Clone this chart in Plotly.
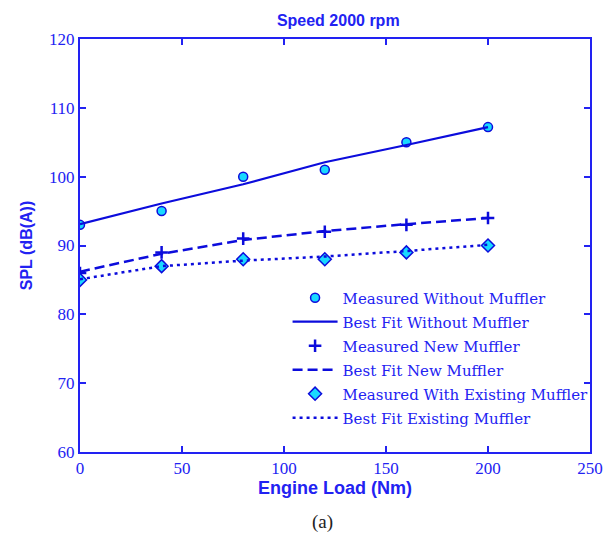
import plotly.graph_objects as go

# Engine load (Nm)
load = [0, 40, 80, 120, 160, 200]

# Measured sound pressure level, dB(A)
spl_without = [93, 95, 100, 101, 105, 107.2]
spl_new = [86, 89, 91, 92, 93, 94]
spl_existing = [85, 87, 88, 88, 89, 90]

# Best-fit curves, dB(A)
fit_without = [93.1, 96.1, 98.9, 102.1, 104.6, 107.2]
fit_new = [86.2, 88.8, 90.8, 92.1, 93.1, 94.0]
fit_existing = [85.1, 87.0, 87.8, 88.4, 89.2, 90.1]

x_ticks = [0, 50, 100, 150, 200, 250]
y_ticks = [60, 70, 80, 90, 100, 110, 120]

AXIS_BLUE = "#2222F2"
LINE_BLUE = "#0C0CDC"
CYAN = "#19D9FF"
SERIF = "Liberation Serif, Times New Roman, serif"
LEGEND_SERIF = "DejaVu Serif, serif"
SANS = "Liberation Sans, Arial, sans-serif"

fig = go.Figure()

fig.add_trace(go.Scatter(
    x=load, y=spl_without, mode="markers", name="Measured Without Muffler",
    legendgroup="g1",
    marker=dict(symbol="circle", size=9, color=CYAN,
                line=dict(color=LINE_BLUE, width=1.5)),
))
fig.add_trace(go.Scatter(
    x=load, y=fit_without, mode="lines", name="Best Fit Without Muffler",
    legendgroup="g2",
    line=dict(color=LINE_BLUE, width=2.2),
))
fig.add_trace(go.Scatter(
    x=load, y=spl_new, mode="markers", name="Measured New Muffler",
    legendgroup="g3",
    marker=dict(symbol="cross-thin", size=9, color=LINE_BLUE,
                line=dict(color=LINE_BLUE, width=2.5)),
))
fig.add_trace(go.Scatter(
    x=load, y=fit_new, mode="lines", name="Best Fit New Muffler",
    legendgroup="g4",
    line=dict(color=LINE_BLUE, width=2.5, dash="10px,5px"),
))
fig.add_trace(go.Scatter(
    x=load, y=spl_existing, mode="markers", name="Measured With Existing Muffler",
    legendgroup="g5",
    marker=dict(symbol="diamond", size=10, color=CYAN,
                line=dict(color=LINE_BLUE, width=1.5)),
))
fig.add_trace(go.Scatter(
    x=load, y=fit_existing, mode="lines", name="Best Fit Existing Muffler",
    legendgroup="g6",
    line=dict(color=LINE_BLUE, width=2.5, dash="3px,4px"),
))

axis_common = dict(
    showgrid=False, zeroline=False, showline=True, linecolor=AXIS_BLUE,
    linewidth=2, mirror="ticks", ticks="inside", ticklen=6, tickwidth=1.5,
    tickcolor=AXIS_BLUE, tickfont=dict(family=SERIF, size=17, color=AXIS_BLUE),
)

fig.update_xaxes(
    range=[0, 250], tickvals=x_ticks, ticktext=[str(v) for v in x_ticks],
    title=dict(text="<b>Engine Load (Nm)</b>", standoff=4,
               font=dict(family=SANS, size=18, color=AXIS_BLUE)),
    **axis_common,
)
fig.update_yaxes(
    range=[60, 120], tickvals=y_ticks, ticktext=[str(v) for v in y_ticks],
    title=dict(text="<b>SPL (dB(A))</b>", standoff=12,
               font=dict(family=SANS, size=16, color=AXIS_BLUE)),
    **axis_common,
)

fig.update_layout(
    width=615, height=538,
    margin=dict(l=80, r=15, t=39, b=86),
    paper_bgcolor="white", plot_bgcolor="white",
    title=dict(text="<b>Speed 2000 rpm</b>", x=0.55, xanchor="center",
               y=1 - 20 / 538, yanchor="middle",
               font=dict(family=SANS, size=16, color=AXIS_BLUE)),
    legend=dict(
        x=0.407, y=0.413, xanchor="left", yanchor="top",
        bgcolor="rgba(0,0,0,0)", borderwidth=0,
        font=dict(family=LEGEND_SERIF, size=15, color=AXIS_BLUE),
        itemwidth=45, tracegroupgap=1.5,
    ),
    showlegend=True,
)

fig.add_annotation(
    text="(a)", xref="paper", yref="paper", x=0.475, y=-0.17,
    xanchor="center", yanchor="middle", showarrow=False,
    font=dict(family=SERIF, size=19, color="#222222"),
)

fig.write_html("out.html")
